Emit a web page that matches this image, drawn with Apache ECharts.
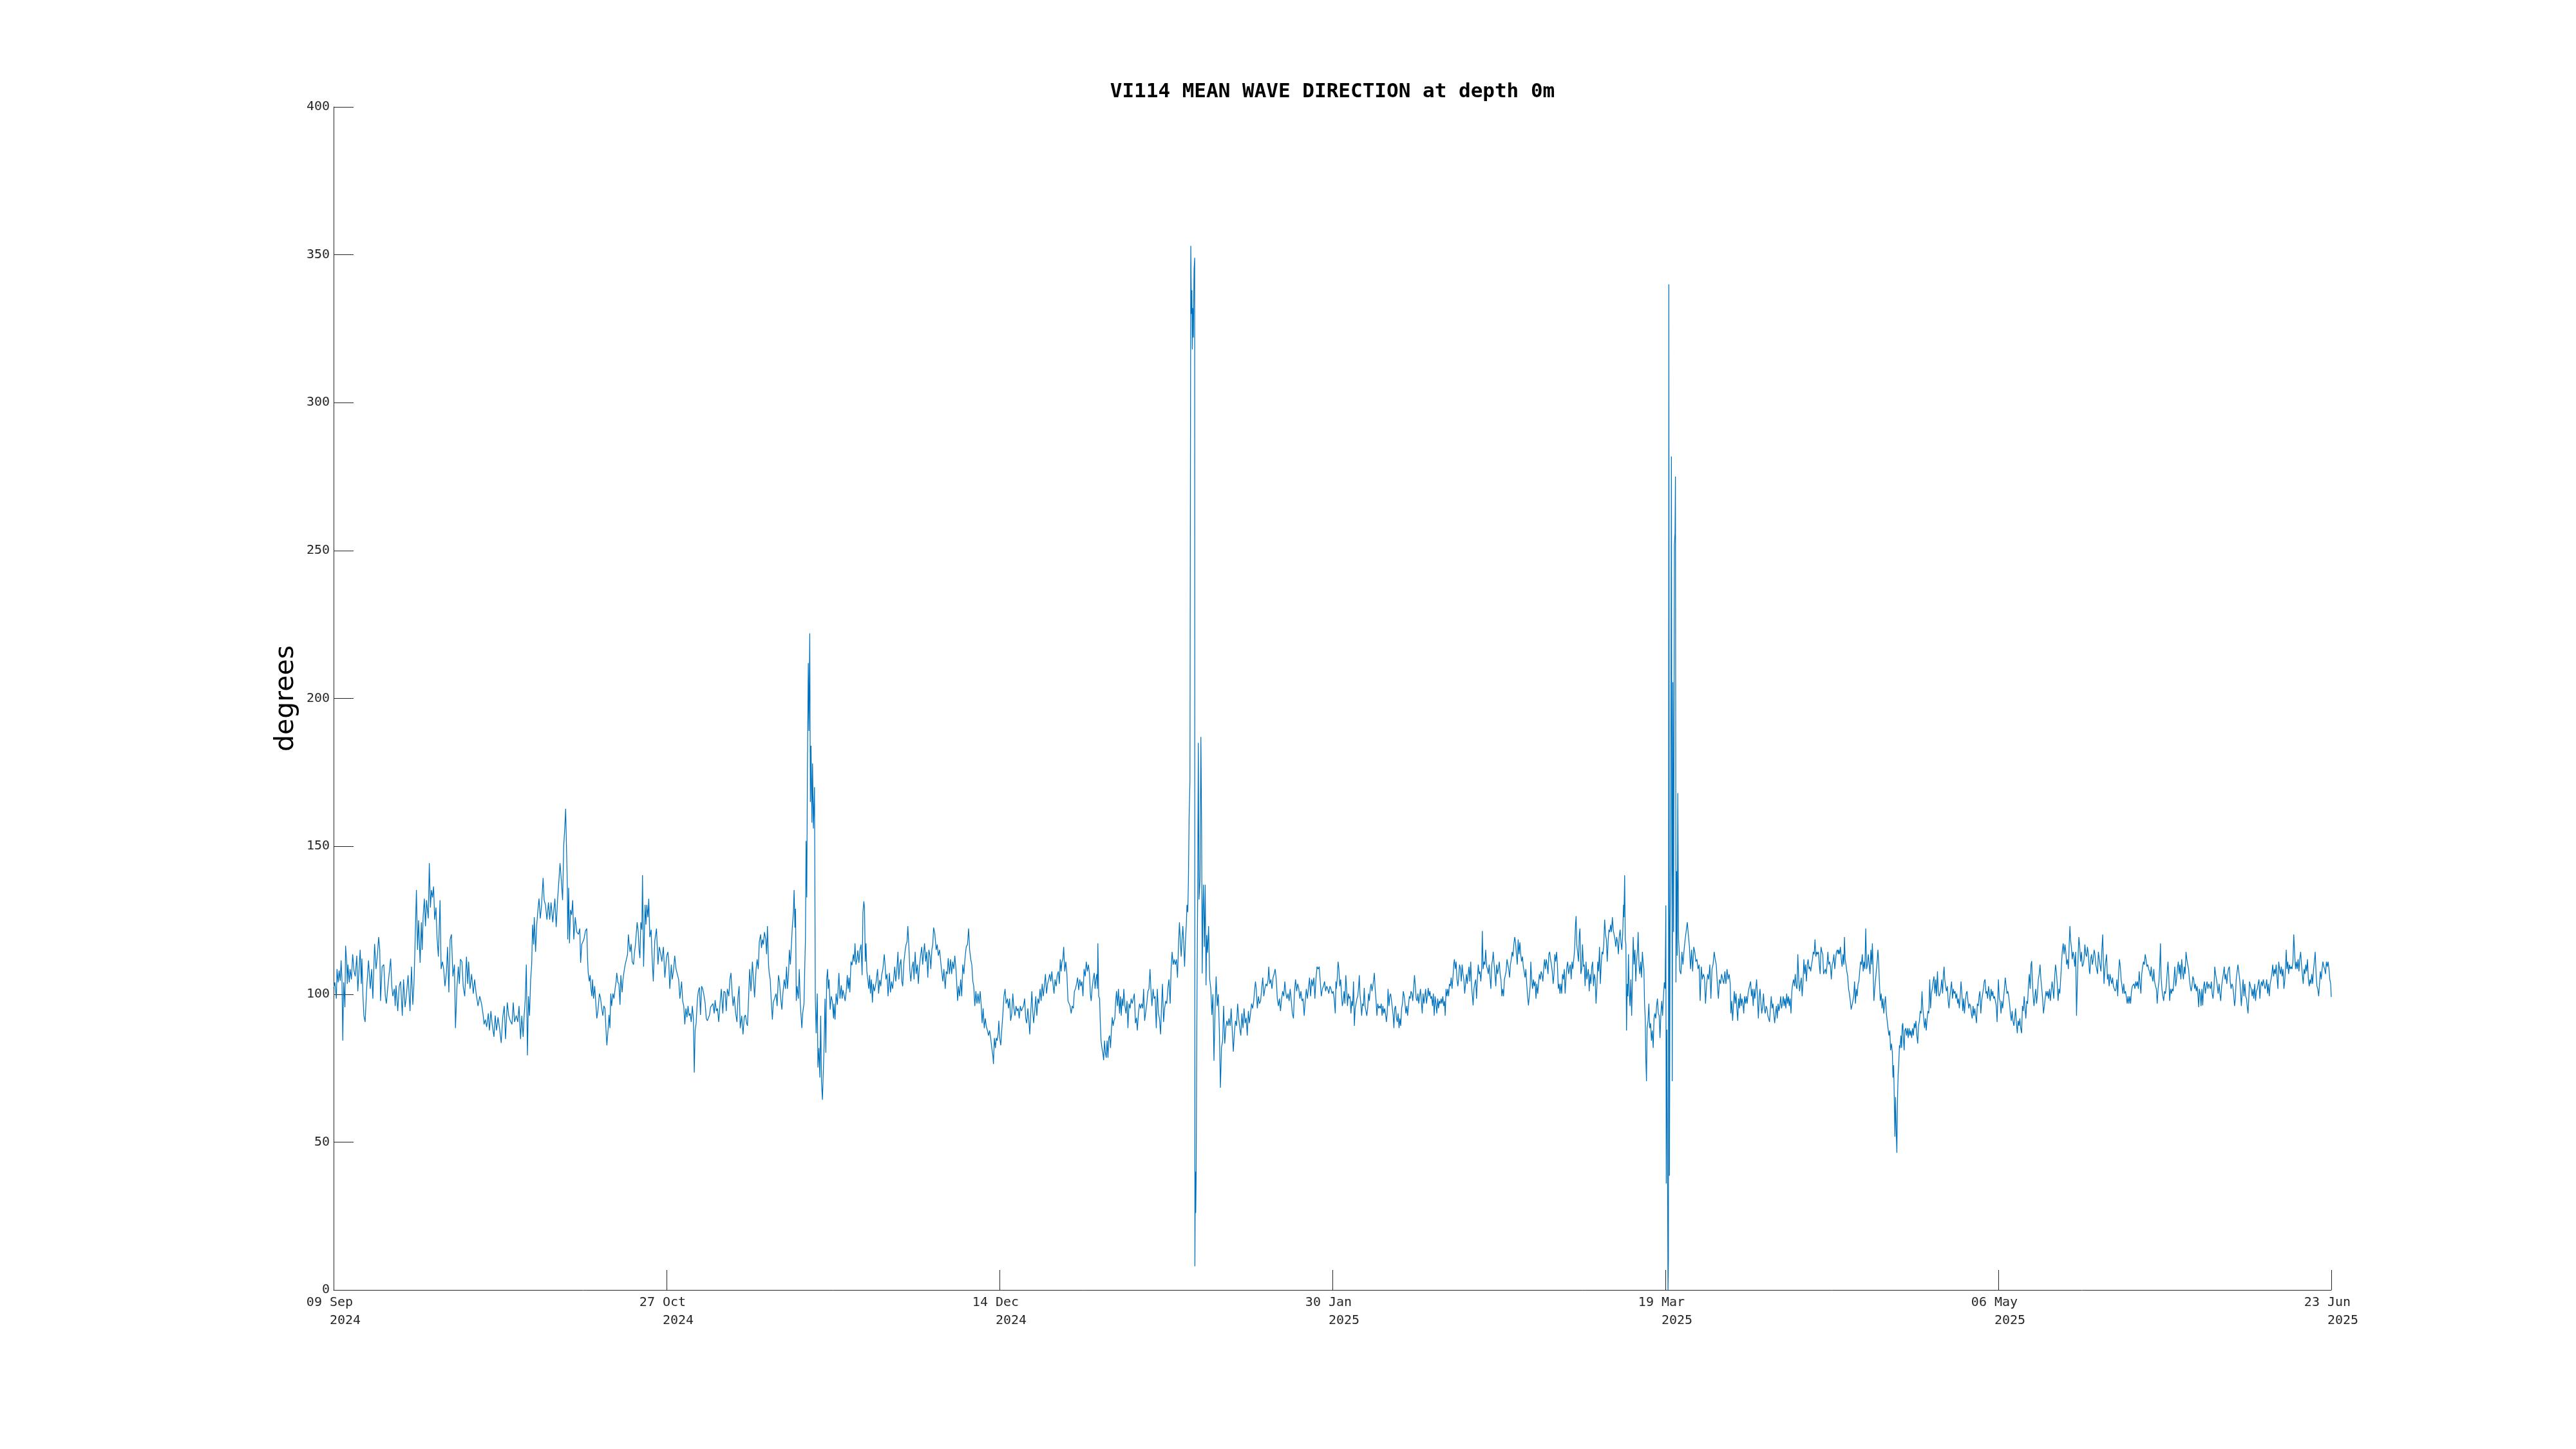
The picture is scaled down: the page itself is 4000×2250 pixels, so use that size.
<!DOCTYPE html>
<html><head><meta charset="utf-8">
<script src="https://cdn.jsdelivr.net/npm/echarts@6/dist/echarts.min.js"></script>
<style>html,body{margin:0;padding:0;background:#fff}#c{width:4000px;height:2250px}</style>
</head><body><div id="c"></div>
<script>
// x = days since 2024-09-09 00:00, y = mean wave direction (degrees)
const xTickLabels = ['09 Sep \n   2024','27 Oct \n   2024','14 Dec \n   2024','30 Jan \n   2025','19 Mar \n   2025','06 May \n   2025','23 Jun \n   2025'];
const spanDays = 287;

const seg1 = [[0,102],[0.18,104],[0.40,98.5],[0.49,108.5],[0.65,104],[0.80,108],[0.95,104.5],[1.08,111.4],[1.20,105],[1.32,84.3],[1.45,104],[1.63,95.6],[1.72,116.4],[1.88,111],[1.97,103.5],[2.06,110],[2.25,104],[2.37,108.5],[2.56,105],[2.74,113.5],[2.93,108],[3.11,106],[3.33,113],[3.48,101],[3.61,100.6],[3.82,115],[3.98,103.5],[4.07,112],[4.22,99.3],[4.35,92.7],[4.53,90.6],[4.75,101.8],[5.02,111.4],[5.27,101.8],[5.46,108.5],[5.64,98.5],[5.89,117],[6.10,108.5],[6.29,113],[6.47,119.3],[6.63,115],[6.75,97.7],[6.97,109.3],[7.21,110],[7.43,99.3],[7.58,96.8],[7.80,102.7],[8.20,112],[8.36,102.7],[8.51,99.3],[8.73,101.8],[8.85,96],[8.97,103],[9.22,94.3],[9.43,102.7],[9.62,104.3],[9.87,92.7],[10.05,105],[10.27,95.6],[10.45,99.3],[10.70,106.4],[10.98,94.3],[11.19,109.3],[11.38,96.4],[11.56,104.3],[11.69,116],[11.90,135.2],[12.06,115],[12.21,125],[12.43,110.6],[12.61,124.3],[12.73,115],[12.86,126],[13.04,132.3],[13.20,123],[13.35,131.8],[13.60,125.6],[13.75,144.3],[13.91,129.3],[14.06,135.2],[14.21,132.7],[14.37,136.4],[14.52,125.2],[14.71,129.3],[14.86,119.3],[15.05,112.7],[15.23,126.8],[15.29,131.8],[15.45,108.5],[15.63,111],[15.82,108.5],[16.00,102.7],[16.22,107.7],[16.37,116],[16.56,100.6],[16.74,118.5],[16.93,120.2],[17.14,106],[17.36,110],[17.51,88.5],[17.73,102.7],[17.92,109.3],[18.07,103.5],[18.22,111.8],[18.44,111],[18.62,102.7],[18.84,99.3],[19.09,112.7],[19.27,103.5],[19.40,111],[19.61,101.8],[19.83,106.8],[20.07,100.2],[20.26,105],[20.48,100.2],[20.75,96],[21.00,99.3],[21.25,96.8],[21.46,93.5],[21.62,89.8],[21.80,91.4],[21.99,88.9],[22.23,93.5],[22.39,87.7],[22.60,94.3],[22.79,89.8],[23.04,85.6],[23.22,92.8],[23.41,87.7],[23.62,92.2],[23.84,88.5],[24.08,83.5],[24.30,92.2],[24.52,96],[24.70,84.8],[24.95,97.2],[25.16,92.8],[25.38,91],[25.63,89.8],[25.81,97.2],[26.00,90.6],[26.24,92.8],[26.46,90.6],[26.64,96],[26.86,84.8],[27.04,92.7],[27.23,85.6],[27.38,92.8],[27.54,98.5],[27.69,110],[27.85,79.3],[28.00,99.3],[28.15,92.7],[28.31,105],[28.46,110],[28.59,123.5],[28.74,116.8],[28.83,126],[29.02,114.3],[29.17,123],[29.33,127.7],[29.51,132.3],[29.70,125.6],[29.88,130.2],[30.10,139.3],[30.25,131.8],[30.44,130.2],[30.65,125.2],[30.87,131],[31.05,125.2],[31.24,131],[31.49,124.3],[31.79,132.3],[31.98,122.7],[32.19,132.3],[32.35,137.7],[32.53,144.3],[32.72,138.5],[32.90,131.8],[33.06,150.2],[33.21,156],[33.34,162.7],[33.46,163],[33.58,136.8],[33.64,118.5],[33.77,136],[33.89,117.2],[34.04,128.5],[34.20,126.8],[34.35,131.8],[34.51,118.5],[34.72,126],[34.94,121],[35.19,120.2],[35.37,122.2],[35.49,110.6],[35.65,116.8]];

const seg2 = [[35.96,118.5],[36.18,121.4],[36.37,122.2],[36.49,111.8],[36.58,107.2],[36.74,104.3],[36.86,106.4],[36.98,101.8],[37.11,99.3],[37.20,105],[37.35,98.5],[37.51,102.7],[37.66,103],[37.82,91.8],[37.97,94.3],[38.19,100.2],[38.34,98.9],[38.52,95.2],[38.68,92.7],[38.83,96],[38.99,95.2],[39.14,87.7],[39.26,82.7],[39.45,88.5],[39.57,93],[39.70,88.5],[39.82,100.2],[39.94,96],[40.13,100.2],[40.28,98.5],[40.44,101.8],[40.59,104.3],[40.68,107.2],[40.84,104],[40.99,103.5],[41.15,96.4],[41.27,106.4],[41.45,100.6],[41.58,105],[41.73,107.7],[41.89,110],[42.07,111.8],[42.23,113.5],[42.35,120.2],[42.47,116.8],[42.60,114.3],[42.75,117],[42.90,111],[43.09,110],[43.21,113.5],[43.37,117],[43.52,116.8],[43.61,124.3],[43.77,121],[43.89,115],[44.01,112.2],[44.14,124.3],[44.29,121.8],[44.38,140.2],[44.54,109.3],[44.75,130.2],[44.88,123.5],[45.00,130.2],[45.16,126],[45.28,132.3],[45.43,119.3],[45.62,121.8],[45.74,113.5],[45.93,104.3],[46.14,118],[46.39,122.2],[46.60,110],[46.79,116],[46.97,114],[47.16,111],[47.38,116],[47.59,105.6],[47.84,112.7],[48.02,114.3],[48.15,111],[48.30,101.8],[48.52,110],[48.64,105],[48.82,107.7],[49.01,113],[49.20,108.5],[49.38,108.5],[49.57,105],[49.75,98.5],[50.00,104.3],[50.15,97.7],[50.31,96],[50.46,89.8],[50.61,95.2],[50.77,92.2],[50.92,96],[51.08,92.7],[51.23,93.5],[51.38,90.6],[51.54,96],[51.69,91.8],[51.82,73.5],[51.94,87.7],[52.09,90.2],[52.25,97.7],[52.40,101],[52.56,102.3],[52.71,93],[52.87,102.7],[53.02,101.8],[53.17,100.2],[53.39,96.8],[53.54,91.8],[53.70,91],[53.88,90.6],[54.01,93],[54.16,95.6],[54.31,95.2],[54.50,96.8],[54.68,93.5],[54.81,98],[54.99,94.3],[55.15,95.2],[55.33,90.6],[55.55,97.7],[55.70,101.8],[55.92,93.5],[56.07,101],[56.26,100.6],[56.41,94.3],[56.57,101.8],[56.78,99.3],[56.94,105],[57.09,107.2],[57.28,99.3],[57.40,96],[57.55,99.3],[57.77,93.5],[57.95,90.6],[58.11,99.3],[58.26,102.7],[58.42,88.5],[58.63,92.7],[58.82,86.4],[59.00,92.2],[59.16,93],[59.34,90.2],[59.46,89.3],[59.62,98.5],[59.77,108.5],[59.96,101],[60.17,111],[60.33,111],[60.48,98.9],[60.70,108.5],[60.85,111.8],[61.01,108.5],[61.16,117.7],[61.35,120.2],[61.47,115.6],[61.62,118.5],[61.75,116.8],[61.90,121],[62.09,118.5],[62.21,113.5],[62.33,123],[62.49,110],[62.58,107.2],[62.73,105],[62.86,98.5],[63.04,91.4],[63.17,97.2],[63.35,98.5],[63.57,100.2],[63.72,96],[63.91,106.4],[64.06,104.3],[64.24,98.5],[64.40,94.8],[64.55,100.2],[64.74,105],[64.92,101.8],[65.08,109.3],[65.20,101.8],[65.36,106.8],[65.48,115],[65.63,110],[65.79,117.5],[65.91,123],[66.06,127.7],[66.16,135.2],[66.28,122.5],[66.37,128.9],[66.47,97.7],[66.59,102.7],[66.77,98.5],[66.90,108.5],[67.05,96.8],[67.27,88.5],[67.39,93.5],[67.58,96.8],[67.70,110],[67.79,118.5],[67.88,151.8],[67.98,132.7],[68.07,175],[68.20,212],[68.29,189],[68.41,222],[68.50,165],[68.59,184],[68.72,158],[68.81,178],[68.93,156],[69.09,170],[69.21,98.5],[69.33,86.8],[69.49,100.2],[69.58,75.2],[69.73,81.8],[69.86,71.8],[69.98,92.7],[70.10,70.2],[70.23,64.3],[70.32,71],[70.47,82.7],[70.60,98.5],[70.72,80.2],[70.84,105],[70.97,108.5],[71.06,101.8],[71.18,105],[71.34,94.8],[71.49,99.3],[71.65,97.7],[71.83,91.8]];

const seg3 = [[71.89,96.8],[72.04,91.4],[72.20,100.2],[72.38,96.4],[72.51,103.5],[72.60,107.2],[72.75,98.5],[72.94,103],[73.06,98.5],[73.19,101.4],[73.37,99.3],[73.49,97.7],[73.65,101],[73.80,106.4],[73.93,101.8],[74.05,105.6],[74.17,100.6],[74.33,111],[74.48,109.8],[74.67,113.5],[74.79,111],[74.91,117.2],[75.04,110],[75.19,111.8],[75.31,114.8],[75.47,110.6],[75.62,115],[75.78,116.8],[75.93,106.4],[76.05,127.7],[76.18,131.4],[76.27,129.3],[76.39,111],[76.49,117.2],[76.61,107.7],[76.76,104.8],[76.89,101.8],[77.01,106.4],[77.13,100.2],[77.26,105],[77.41,97.2],[77.53,103.5],[77.69,101],[77.84,102.7],[77.99,105],[78.15,108.5],[78.30,100.2],[78.46,104.8],[78.61,102.7],[78.74,106.4],[78.92,108.5],[79.11,113.5],[79.23,110],[79.35,105],[79.51,106.8],[79.66,99.3],[79.85,107.2],[80.00,100.6],[80.16,104.3],[80.31,101.8],[80.46,105],[80.62,109.3],[80.77,104.3],[80.93,108.5],[81.08,114.3],[81.20,105],[81.36,110],[81.51,111.8],[81.64,104.3],[81.76,102.7],[81.94,111],[82.13,115],[82.25,116.8],[82.38,117.7],[82.50,123],[82.65,116],[82.78,108.5],[82.93,104.3],[83.12,109.3],[83.27,111],[83.39,105],[83.55,114.3],[83.70,106.8],[83.86,110],[84.01,103.5],[84.16,109.3],[84.35,113.5],[84.50,116],[84.63,110],[84.78,114.3],[84.90,117.2],[85.06,111],[85.21,114.3],[85.37,105.6],[85.52,115],[85.68,113],[85.80,108.5],[85.95,115],[86.08,116.8],[86.20,122.5],[86.38,120.5],[86.57,115],[86.72,116.8],[86.88,113],[87.06,115],[87.22,111],[87.37,107.7],[87.53,104.3],[87.68,108.5],[87.87,101.8],[88.02,107.7],[88.17,106.8],[88.30,112.2],[88.48,106.8],[88.64,111.8],[88.79,106.8],[88.94,111],[89.10,108.5],[89.25,113],[89.41,108.5],[89.53,103.5],[89.65,97.7],[89.78,102.7],[89.93,99.3],[90.09,105],[90.24,99.3],[90.39,110],[90.55,106.8],[90.70,111.8],[90.89,116],[91.07,116.8],[91.23,122.2],[91.38,115],[91.54,111.8],[91.69,110],[91.84,104.3],[91.97,102.7],[92.12,96],[92.28,101],[92.43,96.8],[92.58,100.2],[92.74,96.8],[92.89,101],[93.05,96],[93.17,90.2],[93.32,95.2],[93.48,88.5],[93.63,91.8],[93.79,88.9],[93.94,87.7],[94.09,86],[94.25,87.7],[94.40,85.2],[94.56,81.8],[94.71,79.3],[94.80,76.4],[94.93,85.2],[95.08,81.8],[95.20,85.2],[95.33,84.3],[95.48,86.8],[95.57,91],[95.70,85.2],[95.85,82.7],[96.01,88.5],[96.16,93.5],[96.31,99.3],[96.47,101.8],[96.62,96.8],[96.81,98.5],[96.96,95.2],[97.12,98.5],[97.27,91],[97.43,93.5],[97.58,100.2],[97.73,95.2],[97.89,92.7],[98.04,96],[98.20,94.3],[98.35,95.2],[98.50,91.8],[98.66,96],[98.81,94.3],[98.97,95.2],[99.12,96],[99.28,98.5],[99.43,91.8],[99.58,90.2],[99.74,95.2],[99.89,91],[100.02,86.4],[100.17,94.3],[100.32,101],[100.45,94.3],[100.57,90.2],[100.73,94.3],[100.88,99.3],[101.03,92.7],[101.19,98.5],[101.34,96.8],[101.50,101.8],[101.65,97.7],[101.80,103.5],[101.96,99.3],[102.11,102.7],[102.27,106.8],[102.42,100.2],[102.58,103.5],[102.73,105],[102.88,106.8],[103.04,104.3],[103.19,107.7],[103.35,103.5],[103.50,100.2],[103.65,105],[103.81,102.7],[103.96,106.4],[104.12,107.7],[104.27,103.5],[104.40,111.8],[104.52,107.7],[104.64,111],[104.77,111.8],[104.89,116],[105.04,107.7],[105.20,111],[105.35,106.8],[105.51,97.7],[105.66,97.7],[105.81,96],[105.97,93.5],[106.12,96],[106.28,95.2],[106.43,101],[106.58,101.8],[106.74,103.5],[106.89,105.6],[107.05,101.4],[107.20,105],[107.36,102.7],[107.51,104.3],[107.66,99.3],[107.82,108.5]];

const seg4 = [[107.98,106],[108.13,111],[108.29,107.7],[108.44,110],[108.60,106.8],[108.72,100.2],[108.84,97.7],[108.97,101.8],[109.12,105],[109.28,107.2],[109.40,101.8],[109.52,105],[109.65,106.8],[109.74,101.8],[109.80,117.2],[109.92,99.3],[110.05,98.5],[110.14,91],[110.26,84.3],[110.39,81.8],[110.51,80.2],[110.63,77.7],[110.76,84.3],[110.88,80.2],[111.00,78.5],[111.13,84.3],[111.25,78.5],[111.37,85.2],[111.50,86],[111.62,81.8],[111.74,87.7],[111.87,92.2],[111.99,89.3],[112.11,91],[112.24,91.8],[112.36,97.7],[112.48,101],[112.61,96],[112.76,101.8],[112.91,93.5],[113.04,99.3],[113.16,92.7],[113.28,98.5],[113.41,96],[113.53,101.8],[113.69,96],[113.84,93.5],[113.99,97.7],[114.12,88.5],[114.27,96.8],[114.43,95.2],[114.58,98.5],[114.73,96.8],[114.89,98.5],[115.04,100.2],[115.20,90.2],[115.35,92],[115.47,87.7],[115.63,93.5],[115.78,96.8],[115.94,95.2],[116.09,96.8],[116.25,95.2],[116.37,101.8],[116.52,91],[116.68,91],[116.83,96.8],[116.99,101],[117.14,101.8],[117.29,108.5],[117.42,101.8],[117.57,96],[117.73,101.8],[117.88,98.5],[118.03,99.3],[118.19,88.5],[118.34,101.8],[118.50,93.5],[118.65,91.8],[118.81,86.4],[118.96,96.8],[119.08,103.5],[119.24,90.6],[119.39,95.2],[119.55,97.7],[119.70,96.8],[119.85,101.8],[120.01,105],[120.19,96.8],[120.32,108.5],[120.47,114.3],[120.62,110],[120.78,111.8],[120.93,110],[121.09,111.8],[121.24,105.6],[121.40,117.5],[121.52,124.3],[121.64,118.5],[121.77,112.7],[121.89,118.5],[122.01,123],[122.14,116.8],[122.26,109.3],[122.38,117.9],[122.51,123.5],[122.60,130.2],[122.72,127.7],[122.81,138.5],[122.91,160],[123.03,172],[123.15,353],[123.25,330],[123.31,338],[123.37,318],[123.43,332],[123.52,322],[123.62,345],[123.71,349],[123.74,8],[123.80,40],[123.86,26],[123.92,38],[124.02,91],[124.14,135],[124.23,185],[124.33,132],[124.48,139],[124.60,187],[124.70,157],[124.79,107],[124.88,128],[124.97,137],[125.10,116],[125.22,137],[125.34,103],[125.44,120],[125.56,114],[125.71,123],[125.87,105],[126.02,102],[126.18,93],[126.33,100],[126.48,77.5],[126.64,95],[126.79,106],[126.95,96],[127.10,100],[127.26,87],[127.41,68.4],[127.56,82],[127.72,84],[127.87,96],[128.03,83.3],[128.18,88.5],[128.33,91],[128.49,89.3],[128.64,91.8],[128.80,89.3],[128.95,95.2],[129.11,87.7],[129.26,80.6],[129.41,86.8],[129.57,91],[129.72,89.3],[129.88,96.8],[130.03,91.8],[130.19,88.5],[130.34,86],[130.49,93.5],[130.65,88.5],[130.80,95.2],[130.96,90.2],[131.11,92],[131.26,86],[131.42,94.3],[131.57,90.2],[131.73,93.5],[131.88,96.8],[132.04,95.2],[132.19,97.7],[132.34,101.8],[132.44,104.3],[132.56,101.8],[132.71,95.2],[132.87,99.3],[133.02,96.8],[133.18,97.7],[133.33,101.8],[133.49,105.6],[133.64,99.3],[133.79,101.8],[133.95,103.5],[134.10,102.7],[134.26,105],[134.35,109.3],[134.50,103.5],[134.66,105],[134.81,101.8],[134.97,105.6],[135.12,106.8],[135.27,108.5],[135.43,105],[135.58,98.5],[135.74,96],[135.89,98.5],[136.04,94.3],[136.20,98.5],[136.35,101],[136.51,99.3],[136.66,104.3],[136.82,100.2],[136.97,98.5],[137.12,100.2],[137.28,97.7],[137.43,101.8],[137.59,97.7],[137.74,93.5],[137.90,91.8],[138.05,101],[138.20,105],[138.36,101],[138.51,103.5],[138.67,101.8],[138.82,98.5],[138.97,101],[139.13,97.7],[139.28,98.5],[139.44,92.7],[139.59,97.7],[139.75,101.8],[139.90,98.5],[140.05,101.8],[140.21,105.6],[140.36,99.3],[140.52,105],[140.67,102.7],[140.83,105.6],[140.98,98.5],[141.13,105],[141.29,109.3],[141.44,108.5],[141.60,109.3],[141.75,104.3],[141.90,99.3],[142.06,101.8],[142.21,102.7],[142.37,104.3],[142.52,101],[142.68,102.7],[142.83,101.8],[142.98,100.2],[143.14,102.7],[143.29,101.8],[143.45,100.2],[143.60,101],[143.75,98.5],[143.91,93.5],[144.00,104.3]];

const seg5 = [[144.06,101.8],[144.18,105],[144.31,111],[144.43,108.5],[144.55,102.7],[144.68,105],[144.80,100.2],[144.92,96],[145.05,97.7],[145.17,101],[145.29,96.8],[145.42,106.4],[145.54,101.8],[145.66,96],[145.79,100.2],[145.91,98.5],[146.03,99.3],[146.16,93.5],[146.28,97.7],[146.40,96],[146.53,104.3],[146.65,89.3],[146.77,95.2],[146.90,95.2],[147.02,98.5],[147.14,99.3],[147.27,102.7],[147.36,106.4],[147.45,100.2],[147.58,96.8],[147.70,92.7],[147.82,96.8],[147.95,96],[148.07,102.1],[148.19,96],[148.32,96],[148.44,92.7],[148.56,95.2],[148.69,100.2],[148.81,97.7],[148.93,101.8],[149.06,103.5],[149.18,101],[149.30,102.7],[149.43,105],[149.52,107.2],[149.64,101.8],[149.77,97.7],[149.89,92.7],[150.01,96.8],[150.14,95.2],[150.26,96],[150.38,95.2],[150.51,96.8],[150.63,92.7],[150.75,96],[150.88,93.5],[151.00,95.2],[151.12,93.5],[151.25,90.6],[151.37,93.5],[151.49,101.8],[151.62,96],[151.74,99.3],[151.86,100.2],[151.99,97.7],[152.11,95.2],[152.23,92.7],[152.33,88.5],[152.45,95.2],[152.57,96],[152.70,91.8],[152.82,90.6],[152.94,93.5],[153.07,88.5],[153.19,91.8],[153.31,89.3],[153.44,95.2],[153.56,96.8],[153.68,101],[153.81,99.3],[153.93,96.8],[154.05,93.5],[154.18,96],[154.30,92.7],[154.42,96],[154.55,99.3],[154.67,98.5],[154.79,101],[154.92,100.2],[155.04,97.7],[155.16,101.8],[155.29,106.4],[155.41,102.7],[155.53,98.5],[155.66,97.7],[155.78,100.2],[155.90,96.8],[156.03,99.3],[156.15,101.8],[156.27,97.7],[156.40,93.5],[156.52,100.2],[156.64,96.8],[156.77,99.3],[156.89,101.8],[157.01,96.8],[157.14,99.3],[157.26,102.1],[157.38,99.3],[157.51,101],[157.63,98.5],[157.75,99.3],[157.88,96],[158.00,100.2],[158.12,92.7],[158.25,99.3],[158.37,96.8],[158.49,93.5],[158.62,98.5],[158.74,95.2],[158.86,97.7],[158.99,96.8],[159.11,98.5],[159.23,96.8],[159.36,99.3],[159.48,96],[159.60,97.7],[159.70,92.7],[159.82,101.8],[159.94,99.3],[160.07,101.8],[160.19,99.3],[160.31,103.5],[160.44,102.7],[160.56,105.6],[160.68,101.8],[160.81,105.6],[160.93,110],[161.02,111.8],[161.15,108.5],[161.27,111],[161.39,105],[161.52,102.7],[161.64,105.6],[161.76,110],[161.89,108.5],[162.01,104.3],[162.13,110],[162.26,106.8],[162.38,105],[162.50,100.2],[162.63,103.5],[162.75,106.8],[162.87,103.5],[163.00,106.8],[163.12,109.3],[163.24,104.3],[163.37,111],[163.49,102.7],[163.61,99.3],[163.71,96.2],[163.83,101.8],[163.95,103.5],[164.08,105],[164.20,98.5],[164.32,105],[164.45,110],[164.57,106.8],[164.69,107.7],[164.82,104.3],[164.94,108.5],[165.03,121.4],[165.15,108.5],[165.28,111],[165.40,110],[165.52,115],[165.65,109.3],[165.77,108.5],[165.89,106.8],[166.02,110],[166.14,105.6],[166.26,101.8],[166.39,110],[166.51,111.8],[166.60,114.3],[166.73,110],[166.85,106.8],[166.97,102.7],[167.10,110],[167.22,106.8],[167.34,108.5],[167.47,111],[167.59,106.8],[167.71,105],[167.84,99.3],[167.96,101.8],[168.08,99.3],[168.21,105],[168.33,105],[168.45,107.7],[168.58,111.8],[168.70,110],[168.82,108.5],[168.95,105.6],[169.07,110],[169.19,111.8],[169.32,114.3],[169.44,112.7],[169.56,116.8],[169.69,119.3],[169.81,117.5],[169.93,113.5],[170.06,110],[170.18,118.5],[170.30,113.5],[170.43,117.5],[170.55,113.5],[170.67,111],[170.80,112.7],[170.92,109.3],[171.04,107.7],[171.17,105.6],[171.29,108.5],[171.41,103.5],[171.54,99.3],[171.66,96.2],[171.78,99.3],[171.91,102.7],[172.00,111],[172.12,105],[172.25,101.8],[172.37,105],[172.49,102.7],[172.62,104.3],[172.74,98.5],[172.86,103.5],[172.99,100.2],[173.11,103.5],[173.23,106.8],[173.36,105],[173.48,107.7],[173.60,106.8],[173.73,104.3],[173.85,108.5],[173.97,111.8],[174.10,108.5],[174.22,111.8],[174.34,110],[174.47,106.8],[174.59,113.5],[174.71,114.3],[174.84,111.8],[174.96,110],[175.08,107.7],[175.21,103.5],[175.33,106.8],[175.45,113.5],[175.58,111],[175.70,114.3],[175.82,110],[175.95,101.8],[176.07,103.5],[176.19,100.2],[176.32,103.5],[176.44,100.2],[176.56,106.8],[176.69,105],[176.81,108.5],[176.93,100.2],[177.06,105.6],[177.18,109.3],[177.30,111],[177.43,106.8],[177.55,108.5],[177.67,110],[177.80,105],[177.92,111],[178.04,108.5],[178.17,111.8],[178.29,115],[178.42,123.5],[178.51,126.4],[178.60,116.8],[178.72,114.3],[178.85,111],[178.97,120.2],[179.06,122.2],[179.19,106.8],[179.31,108.5],[179.43,116.8],[179.56,109.3],[179.68,110],[179.80,102.7],[179.93,111],[180.05,105]];

const seg6 = [[180.14,105],[180.26,108.5],[180.39,101],[180.51,106.8],[180.63,103.5],[180.76,109.3],[180.88,111],[181.00,102.7],[181.13,106.8],[181.25,105],[181.37,96.8],[181.50,102.7],[181.62,111],[181.74,107.7],[181.87,116],[181.99,103.5],[182.11,110],[182.24,114.3],[182.36,113.5],[182.48,116.8],[182.61,125.2],[182.73,120.2],[182.85,118.5],[182.98,111],[183.10,117.5],[183.22,121.8],[183.35,121],[183.47,123.5],[183.59,121],[183.72,126],[183.84,121.8],[183.96,120.2],[184.09,118.5],[184.21,116],[184.33,119.3],[184.46,117.5],[184.58,113.5],[184.70,119.3],[184.83,121.8],[184.95,117.5],[185.07,115],[185.20,120.2],[185.32,130.2],[185.38,126],[185.48,140.2],[185.57,118.5],[185.66,116.8],[185.75,87.7],[185.85,103.5],[185.94,99.3],[186.03,113.5],[186.12,101.8],[186.25,96],[186.37,105],[186.49,92.7],[186.59,104.3],[186.71,119.3],[186.83,110],[186.96,115],[187.08,104.3],[187.20,111],[187.33,115],[187.42,121],[187.54,110],[187.66,106.8],[187.79,111],[187.91,105.6],[188.03,114.3],[188.16,110],[188.25,108.5],[188.34,96.8],[188.44,91.8],[188.53,77.7],[188.62,70.6],[188.71,88.5],[188.84,91],[188.96,96.8],[189.08,88.5],[189.21,90.2],[189.33,84.3],[189.45,87.7],[189.58,81.8],[189.70,91.8],[189.82,93.5],[189.95,91.8],[190.07,96],[190.19,98.5],[190.32,93.5],[190.44,92.7],[190.56,85.2],[190.69,93.5],[190.81,97.7],[190.93,92.7],[191.06,99.3],[191.18,104],[191.30,101.8],[191.40,130],[191.46,36],[191.55,88],[191.64,42],[191.71,0],[191.77,10],[191.83,340],[191.92,38.6],[192.01,123.7],[192.10,143.5],[192.20,281.8],[192.32,70.6],[192.41,205.5],[192.51,121],[192.63,252],[192.72,256],[192.78,275],[192.85,104],[192.94,141.6],[193.03,113],[193.12,168],[193.22,119],[193.31,115],[193.40,108],[193.56,106.8],[193.71,114.3],[193.86,110],[194.02,115],[194.17,118.5],[194.33,118.5],[194.48,124.3],[194.63,120.2],[194.79,116],[194.94,108.5],[195.10,115],[195.25,107.7],[195.41,116],[195.56,114.3],[195.71,111],[195.87,111.8],[196.02,108.5],[196.18,110],[196.33,97.7],[196.49,109.3],[196.64,105],[196.79,106.8],[196.95,105.6],[197.10,96.8],[197.26,103.5],[197.41,106.8],[197.56,105],[197.72,110],[197.87,98.5],[198.03,108.5],[198.18,110],[198.34,114.3],[198.49,111.8],[198.64,110],[198.80,103.5],[198.95,98.5],[199.11,105],[199.26,103.5],[199.41,106.8],[199.57,105],[199.72,103.5],[199.88,107.7],[200.03,103.5],[200.19,108.5],[200.34,105],[200.49,106.8],[200.65,103.5],[200.74,93.5],[200.86,97.7],[200.99,91],[201.11,96],[201.23,101],[201.36,96.8],[201.48,100.2],[201.60,95.2],[201.73,91],[201.85,98.5],[201.97,95.2],[202.10,100.2],[202.22,96],[202.34,98.5],[202.47,96.8],[202.59,93.5],[202.71,99.3],[202.84,96.8],[202.96,99.3],[203.08,96.8],[203.21,100.2],[203.33,101.8],[203.45,101.8],[203.58,104.3],[203.70,99.3],[203.82,101.8],[203.95,96],[204.07,101.8],[204.19,98.5],[204.32,101.8],[204.44,105],[204.56,99.3],[204.69,91.8],[204.81,98.5],[204.93,101.8],[205.06,96.8],[205.18,93.5],[205.30,96],[205.43,100.2],[205.55,95.2],[205.68,93.5],[205.80,96],[205.92,95.2],[206.05,92.7],[206.17,91.8],[206.29,90.6],[206.42,95.2],[206.54,99.3],[206.66,95.2],[206.79,96.8],[206.91,93.5],[207.03,90.2],[207.16,93.5],[207.28,96],[207.40,91.8],[207.53,96.8],[207.65,94.3],[207.77,96],[207.90,99.3],[208.02,95.2],[208.14,96.8],[208.27,99.3],[208.39,96],[208.51,98.5],[208.64,95.2],[208.76,100.2],[208.88,96.8],[209.01,99.3],[209.13,96],[209.25,98.5],[209.38,93.5],[209.50,101],[209.62,103.5],[209.75,105],[209.87,102.7],[209.99,106.8],[210.12,102.7],[210.24,101.8],[210.36,113.5],[210.49,105],[210.61,101],[210.73,103.5],[210.86,105.6],[210.98,99.3],[211.10,103.5],[211.23,111.8],[211.35,106.8],[211.47,110],[211.60,104.3],[211.72,110],[211.84,111.8],[211.97,108.5],[212.09,109.3],[212.21,107.7],[212.34,110],[212.46,111.8],[212.58,114.3],[212.71,113.5],[212.83,118.5],[212.95,112.7],[213.08,114.3],[213.20,113.5],[213.32,114.3],[213.45,110],[213.57,106.8],[213.69,116],[213.82,114.3],[213.94,113.5],[214.06,106.8],[214.19,106.8],[214.31,108.5],[214.43,106.8],[214.56,110],[214.68,114.3],[214.80,110],[214.93,111],[215.05,109.3],[215.17,105],[215.30,110],[215.42,111],[215.54,113.5],[215.67,108.5],[215.79,111.8],[215.91,114.3],[216.04,115],[216.16,113.5]];

const seg7 = [[216.23,115],[216.35,113.5],[216.48,116],[216.60,111.8],[216.72,109.3],[216.85,113.5],[216.97,110],[217.06,119.3],[217.16,111.8],[217.28,110],[217.40,107.7],[217.53,106],[217.65,101.8],[217.77,100.2],[217.90,97.7],[218.02,94.8],[218.14,95.2],[218.27,97.7],[218.39,99.3],[218.51,104.3],[218.64,96.8],[218.76,101.8],[218.88,99.3],[219.01,103.5],[219.13,104.3],[219.25,107.7],[219.38,111],[219.50,110],[219.62,113.5],[219.75,107.7],[219.87,111],[219.99,108.5],[220.12,122.2],[220.24,108.5],[220.36,110],[220.49,113.5],[220.61,110],[220.73,106.8],[220.86,115],[220.98,110],[221.07,117.2],[221.16,110],[221.29,97.7],[221.41,101.8],[221.53,105],[221.66,108.5],[221.78,111.8],[221.87,115],[221.99,110],[222.09,103.5],[222.21,97.7],[222.34,100.2],[222.46,95.2],[222.58,98.5],[222.71,93.5],[222.83,96.8],[222.95,99.3],[223.08,93.5],[223.20,91],[223.32,88.5],[223.45,86],[223.57,87.7],[223.69,81],[223.82,83.3],[223.94,80.2],[224.03,71.8],[224.13,76],[224.22,64.3],[224.31,51.8],[224.40,65.2],[224.50,53.2],[224.59,46.4],[224.68,64.3],[224.77,72.7],[224.87,76.8],[224.96,82.7],[225.05,81.8],[225.17,86],[225.27,81.8],[225.36,89.3],[225.45,90.2],[225.54,84.3],[225.64,81],[225.73,87.7],[225.85,88.5],[225.98,86],[226.10,88.5],[226.22,85.2],[226.35,88.5],[226.47,86],[226.59,87.7],[226.72,85.2],[226.84,88.5],[226.96,86],[227.09,90.2],[227.21,88.5],[227.33,91],[227.46,86],[227.58,83.3],[227.70,89.3],[227.83,91],[227.95,94.3],[228.07,93.5],[228.20,101],[228.32,95.2],[228.44,95.2],[228.57,88.5],[228.69,91.8],[228.81,87.7],[228.94,91.8],[229.06,94.3],[229.18,93.5],[229.31,105],[229.43,95.2],[229.55,100.2],[229.68,101.8],[229.80,104.3],[229.92,106],[230.05,100.2],[230.17,105],[230.29,99.3],[230.42,107.7],[230.54,101],[230.66,99.3],[230.79,100.2],[230.91,101.8],[231.03,105],[231.16,100.2],[231.28,106.8],[231.37,109.3],[231.47,105],[231.59,102.7],[231.71,101],[231.84,102.7],[231.96,97.7],[232.08,95.2],[232.21,99.3],[232.33,101.8],[232.45,104.3],[232.58,98.5],[232.70,101.8],[232.82,100.2],[232.95,101],[233.07,98.5],[233.19,100.2],[233.32,96.8],[233.44,98.5],[233.56,95.2],[233.69,99.3],[233.81,104.3],[233.93,100.2],[234.06,94.3],[234.18,98.5],[234.30,93.5],[234.43,97.7],[234.55,100.2],[234.67,101],[234.80,97.7],[234.92,95.2],[235.04,96.8],[235.17,96],[235.29,93.5],[235.41,91.8],[235.54,96],[235.66,92.7],[235.78,95.2],[235.91,92.7],[236.03,90.2],[236.15,96.8],[236.28,96],[236.40,99.3],[236.52,101],[236.65,93.5],[236.77,97.7],[236.89,97.7],[237.02,101.8],[237.14,104.3],[237.26,105],[237.39,100.2],[237.51,101],[237.63,98.5],[237.76,102.7],[237.88,100.2],[238.00,97.7],[238.13,101.8],[238.25,99.3],[238.37,101],[238.50,98.5],[238.62,99.3],[238.74,99.3],[238.87,96],[238.99,90.6],[239.11,100.2],[239.18,105],[239.30,98.5],[239.42,97.7],[239.55,93.5],[239.67,97.7],[239.79,95.2],[239.92,98.5],[240.04,101.8],[240.16,105.6],[240.29,102.7],[240.41,100.2],[240.53,101],[240.66,99.3],[240.78,96.8],[240.90,93.5],[241.03,91],[241.15,94.3],[241.27,91],[241.40,89.3],[241.52,91.8],[241.64,95.2],[241.77,90.2],[241.89,86.8],[242.01,91],[242.14,89.3],[242.26,91.8],[242.38,88.5],[242.51,86.8],[242.63,96],[242.75,94.3],[242.88,99.3],[243.00,95.2],[243.12,91.8],[243.25,97.7],[243.37,96.8],[243.49,102.7],[243.62,106.8],[243.74,101.8],[243.86,110],[243.96,111.2],[244.05,105],[244.17,99.3],[244.29,96],[244.42,99.3],[244.54,101.8],[244.66,96.8],[244.79,100.2],[244.91,105],[245.04,106.8],[245.16,110],[245.28,105],[245.41,101.8],[245.53,98.5],[245.65,93.5],[245.78,96],[245.90,98.5],[246.02,101],[246.15,99.3],[246.27,101],[246.39,98.5],[246.52,101.8],[246.64,97.7],[246.76,101],[246.89,104.3],[247.01,101.8],[247.13,98.5],[247.26,105.6],[247.38,110],[247.50,107.7],[247.63,103.5],[247.75,97.7],[247.87,101.8],[248.00,100.2],[248.12,105],[248.24,110],[248.37,115],[248.49,117.2],[248.61,113.5],[248.74,116.8],[248.86,114.3],[248.98,110],[249.11,111.8],[249.23,108.5],[249.35,116.8],[249.45,123],[249.54,118.5],[249.66,116],[249.78,111.8],[249.91,114.3],[250.03,112.7],[250.15,109.3],[250.28,114.3],[250.40,92.7],[250.52,104.3],[250.65,114.3],[250.74,119.3],[250.86,116],[250.99,111],[251.11,114.3],[251.23,109.3],[251.36,110],[251.48,111.8],[251.60,116.8],[251.73,113.5],[251.85,112.7],[251.97,116],[252.10,113.5],[252.25,107.7]];

const seg8 = [[252.31,106.8],[252.43,111.8],[252.56,113.5],[252.68,110],[252.80,111.8],[252.93,115],[253.05,113.5],[253.17,110],[253.30,108.5],[253.42,106.8],[253.54,114.3],[253.67,111.8],[253.79,111.8],[253.91,107.7],[254.04,115],[254.16,120.2],[254.25,111.8],[254.35,103.5],[254.47,108.5],[254.59,111],[254.72,113.5],[254.84,105],[254.96,106.8],[255.09,102.7],[255.21,106.8],[255.33,105],[255.46,103.5],[255.58,105.6],[255.70,102.7],[255.83,101.8],[255.95,101],[256.07,101.8],[256.20,105],[256.32,99.3],[256.44,106.8],[256.57,111.8],[256.69,109.3],[256.81,105],[256.94,102.7],[257.06,100.2],[257.18,103.5],[257.31,100.2],[257.43,101],[257.55,99.3],[257.68,96.8],[257.80,99.3],[257.92,96.8],[258.05,99.3],[258.17,96.8],[258.29,101],[258.42,102.7],[258.54,102.7],[258.66,103.5],[258.79,101.8],[258.91,104.3],[259.03,102.7],[259.16,104.3],[259.28,101.8],[259.40,107.7],[259.53,103.5],[259.65,100.2],[259.77,106.8],[259.90,109.3],[260.02,111],[260.14,110],[260.27,113.5],[260.39,111.8],[260.51,109.3],[260.64,110],[260.76,108.5],[260.88,107.7],[261.01,106],[261.13,109.3],[261.25,106],[261.38,104.3],[261.50,108.5],[261.62,104.3],[261.75,102.7],[261.87,101.8],[261.99,96.8],[262.12,101.8],[262.24,104.3],[262.36,110],[262.46,117.2],[262.55,106],[262.67,101.8],[262.80,99.3],[262.92,97.7],[263.04,101],[263.17,100.2],[263.29,102.7],[263.41,106.8],[263.54,111],[263.66,106],[263.78,97.7],[263.91,101.8],[264.03,100.2],[264.15,101.8],[264.28,101],[264.40,105],[264.52,109.3],[264.65,102.7],[264.77,105],[264.89,108.5],[265.02,111],[265.14,106.8],[265.26,110],[265.39,105],[265.51,111.8],[265.63,107.7],[265.76,105],[265.88,109.3],[266.00,106.8],[266.13,114.3],[266.25,111.8],[266.37,110],[266.50,108.5],[266.62,105],[266.74,102.7],[266.87,101],[266.99,102.7],[267.11,106],[267.24,105],[267.36,101.8],[267.48,103.5],[267.61,101],[267.73,102.7],[267.85,99.3],[267.95,95.6],[268.04,101.8],[268.16,100.2],[268.29,96],[268.41,101.8],[268.53,96.2],[268.66,102.7],[268.78,104.3],[268.90,100.2],[269.03,102.7],[269.15,104.3],[269.27,101.8],[269.40,103.5],[269.52,103.5],[269.64,101.8],[269.77,104.3],[269.89,100.2],[270.01,98.5],[270.14,101.8],[270.26,109.3],[270.38,106.8],[270.51,105],[270.63,102.7],[270.75,100.2],[270.88,103.5],[271.00,100.2],[271.12,97.7],[271.25,102.7],[271.37,105],[271.49,106.8],[271.62,109.3],[271.74,105],[271.86,106.8],[271.99,103.5],[272.11,106.8],[272.23,108.5],[272.36,109.3],[272.48,104.3],[272.60,101.8],[272.73,103.5],[272.85,102.7],[272.97,100.2],[273.10,96],[273.22,98.5],[273.34,105],[273.47,105],[273.59,110],[273.71,110],[273.84,105],[273.96,101],[274.08,96],[274.21,101],[274.33,105],[274.45,99.3],[274.58,103.5],[274.70,99.3],[274.82,98.5],[274.95,95.2],[275.04,93.5],[275.13,97.7],[275.26,104.3],[275.38,102.7],[275.50,101.8],[275.63,99.3],[275.75,101.8],[275.87,98.5],[276.00,103.5],[276.12,97.7],[276.24,101],[276.37,101.8],[276.49,103.5],[276.61,105],[276.74,98.5],[276.86,102.7],[276.98,104.3],[277.11,102.7],[277.23,105],[277.35,105],[277.48,101.8],[277.60,102.7],[277.72,105],[277.85,100.2],[277.97,103.5],[278.09,99.3],[278.22,103.5],[278.34,105],[278.46,106.8],[278.59,110],[278.71,106],[278.83,108.5],[278.96,106.8],[279.08,110],[279.20,106],[279.33,101.8],[279.45,111],[279.57,108.5],[279.70,106.8],[279.82,109.3],[279.94,106],[280.07,108.5],[280.19,101.8],[280.31,104.3],[280.44,110],[280.53,115],[280.62,108.5],[280.75,111],[280.87,106.8],[280.99,110],[281.12,108.5],[281.24,109.3],[281.36,108.5],[281.49,111],[281.61,120.2],[281.73,114.3],[281.86,108.5],[281.98,111],[282.10,108.5],[282.23,111.8],[282.35,107.7],[282.47,111.8],[282.60,114.3],[282.72,110],[282.84,106.8],[282.97,103.5],[283.09,108.5],[283.21,106.8],[283.34,110],[283.46,107.7],[283.58,111.8],[283.71,105],[283.83,102.7],[283.95,105],[284.08,103.5],[284.20,106.8],[284.32,103.5],[284.45,108.5],[284.57,111],[284.69,114.3],[284.82,106.8],[284.94,102.7],[285.06,101.8],[285.19,99.3],[285.31,103.5],[285.43,107.7],[285.56,105],[285.68,108.5],[285.80,111],[285.93,109.3],[286.05,108.5],[286.17,106.8],[286.30,111],[286.42,109.3],[286.54,111],[286.67,108.5],[286.79,105],[286.91,103.5],[287.0,99]];

const HOURS_PER_DAY = 24;
const series = [].concat(seg1, seg2, seg3, seg4, seg5, seg6, seg7, seg8)
  .map(p => [p[0] * HOURS_PER_DAY, p[1]]);
const xMax = spanDays * HOURS_PER_DAY;          // 6888 h
const xStep = xMax / (xTickLabels.length - 1);  // 1148 h

const AX = '#262626';
const mono = 'DejaVu Sans Mono';
const chart = echarts.init(document.getElementById('c'), null, {renderer: 'canvas'});
chart.setOption({
  animation: false,
  backgroundColor: '#ffffff',
  title: {
    text: 'VI114 MEAN WAVE DIRECTION at depth 0m',
    left: 2064, top: 122, textAlign: 'center',
    textStyle: {fontFamily: mono, fontWeight: 'bold', fontSize: 31, color: '#000'}
  },
  grid: {left: 518, right: 380, top: 166, bottom: 247, containLabel: false},
  xAxis: {
    type: 'value', min: 0, max: xMax, interval: xStep,
    axisLine: {show: true, lineStyle: {color: AX, width: 1}},
    axisTick: {show: true, inside: true, length: 31, lineStyle: {color: AX, width: 1}},
    axisLabel: {
      fontFamily: mono, fontSize: 20, color: AX, margin: 6, lineHeight: 28,
      formatter: v => xTickLabels[Math.round(v / xStep)] || ''
    },
    splitLine: {show: false}
  },
  yAxis: {
    type: 'value', min: 0, max: 400, interval: 50,
    name: 'degrees', nameLocation: 'middle', nameGap: 40, nameRotate: 90,
    nameTextStyle: {fontFamily: 'DejaVu Sans', fontSize: 41, color: '#000'},
    axisLine: {show: true, lineStyle: {color: AX, width: 1}},
    axisTick: {show: true, inside: true, length: 31, lineStyle: {color: AX, width: 1}},
    axisLabel: {fontFamily: mono, fontSize: 20, color: AX, margin: 6},
    splitLine: {show: false}
  },
  series: [{
    type: 'line', data: series, showSymbol: false, symbol: 'none',
    sampling: false,
    lineStyle: {color: '#0072BD', width: 1.25},
    emphasis: {disabled: true}
  }]
});
</script>
</body></html>
